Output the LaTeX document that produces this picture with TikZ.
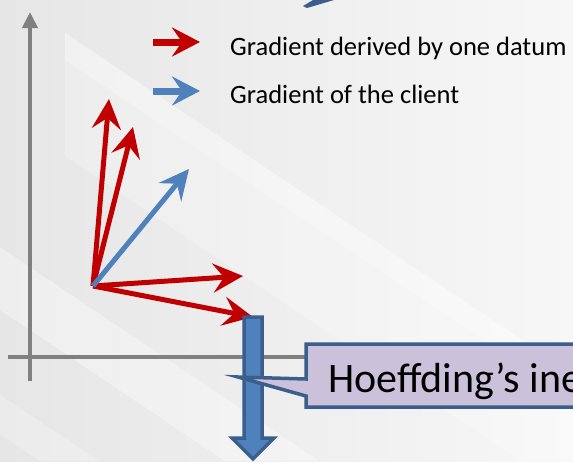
\documentclass[tikz,border=0pt]{standalone}
\usepackage{fontspec}
\setmainfont{Carlito}
\usetikzlibrary{arrows.meta}
\definecolor{vecred}{HTML}{C00000}
\definecolor{vecblue}{HTML}{4F81BD}
\definecolor{edgeblue}{HTML}{3A5F8C}
\definecolor{axisgray}{HTML}{808080}
\definecolor{lavender}{HTML}{CCC1DA}
\definecolor{bgleft}{HTML}{E6E6E6}
\definecolor{bgright}{HTML}{F7F7F7}
\tikzset{
  vec/.style={line width=5pt, -{Stealth[length=30pt,width=29pt,inset=11pt]}},
  legendvec/.style={line width=7pt, -{Stealth[length=28pt,width=29pt,inset=10pt]}},
  axisline/.style={axisgray, line width=3.8pt},
  label/.style={inner sep=0pt, anchor=base west, text=black},
  blockarrow/.style={fill=vecblue, draw=edgeblue, line width=3.5pt, line join=miter},
  calloutbox/.style={fill=lavender, draw=edgeblue, line width=3.5pt, line join=miter}
}
\begin{document}
\begin{tikzpicture}[x=1pt,y=-1pt]
\useasboundingbox (0,0) rectangle (573,461);
\clip (0,0) rectangle (573,461);

% background: soft gray with light diagonal streaks
\shade[left color=bgleft, right color=bgright] (0,0) rectangle (573,461);
\fill[white, opacity=0.25] (65,33) -- (600,392) -- (600,461) -- (520,461) -- (65,156) -- cycle;
\fill[white, opacity=0.25] (65,33) -- (600,392) -- (600,418) -- (65,60) -- cycle;
\fill[white, opacity=0.35] (0,247) -- (319,461) -- (225,461) -- (0,310) -- cycle;
\fill[white, opacity=0.22] (0,395) -- (99,461) -- (40,461) -- (0,434) -- cycle;

% axes
\coordinate (ybot) at (30,381);
\coordinate (ytop) at (30,12);
\coordinate (xl) at (8,357);
\coordinate (xr) at (600,357);
\draw[axisline, -{Triangle[length=16pt,width=15pt]}] (ybot) -- (ytop);
\draw[axisline] (xl) -- (xr);

% fragment of a blue arrow at the top edge
\fill[edgeblue] (303,6) -- (313,0) -- (334,0) -- (307,8) -- cycle;

% legend
\coordinate (lr0) at (153,42);
\coordinate (lr1) at (200,42);
\coordinate (lb0) at (153,91);
\coordinate (lb1) at (200,91);
\draw[legendvec, vecred] (lr0) -- (lr1);
\draw[legendvec, vecblue] (lb0) -- (lb1);
\node[label, font=\fontsize{26.5}{30}\selectfont] (t1) at (230,55) {Gradient derived by one datum};
\node[label, font=\fontsize{26.5}{30}\selectfont] (t2) at (230,103) {Gradient of the client};

% gradient vectors
\coordinate (o) at (93,286);
\coordinate (r1) at (109,99);
\coordinate (r2) at (133,127);
\coordinate (bc) at (189,169);
\coordinate (r3) at (243,276);
\coordinate (r4) at (253,317);
\draw[vec, vecred] (o) -- (r1);
\draw[vec, vecred] (o) -- (r2);
\draw[vec, vecred] (o) -- (r3);
\draw[vec, vecred] (o) -- (r4);
\draw[vec, vecblue] (o) -- (bc);

% downward block arrow
\draw[blockarrow] (244,317) -- (262,317) -- (262,438) -- (274,438) -- (253,459)
  -- (232,438) -- (244,438) -- cycle;

% callout
\coordinate (tip) at (238,377);
\draw[calloutbox] (306,344) -- (610,344) -- (610,407) -- (306,407) -- (306,396)
  -- (tip) -- (306,379) -- cycle;
\node[label, font=\fontsize{42}{48}\selectfont] (hoef) at (328,392) {Hoeffding’s ine};
\end{tikzpicture}
\end{document}
